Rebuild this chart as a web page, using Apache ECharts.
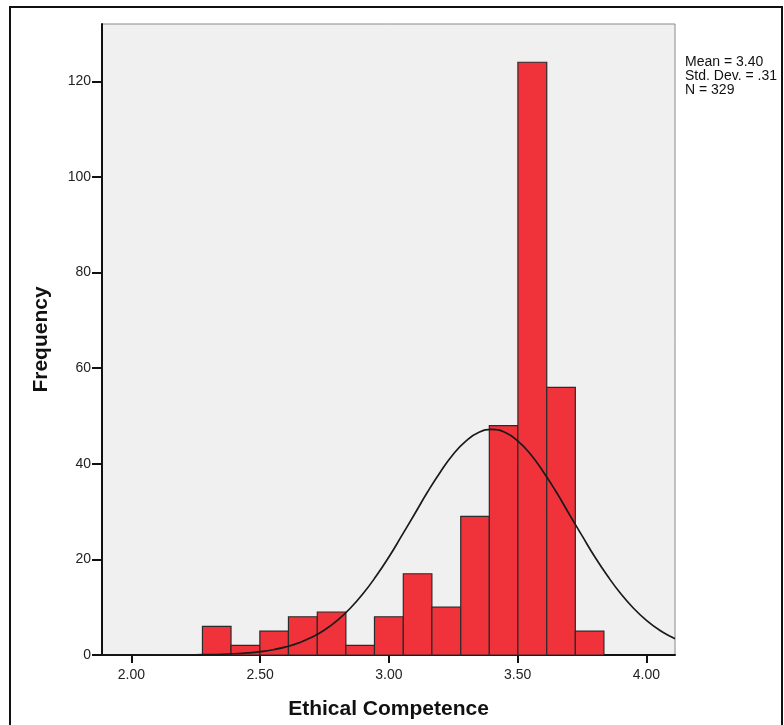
<!DOCTYPE html>
<html>
<head>
<meta charset="utf-8">
<script src="https://cdn.jsdelivr.net/npm/echarts@6/dist/echarts.min.js"></script>
<style>
html,body{margin:0;padding:0;background:#fff;}
#c{width:784px;height:725px;}
</style>
</head>
<body>
<div id="c"></div>
<script>
// Histogram bins (edges) and frequencies
var binEdges = [2.276, 2.387, 2.499, 2.610, 2.722, 2.833, 2.944, 3.056, 3.167, 3.279, 3.390, 3.501, 3.613, 3.724, 3.835];
var frequencies = [6, 2, 5, 8, 9, 2, 8, 17, 10, 29, 48, 124, 56, 5];
// Normal curve points
var curveX = [1.886, 1.95, 2.00, 2.05, 2.10, 2.15, 2.20, 2.25, 2.30, 2.35, 2.40, 2.45, 2.50, 2.55, 2.60, 2.65, 2.70, 2.75, 2.80, 2.85, 2.90, 2.95, 3.00, 3.05, 3.10, 3.15, 3.20, 3.25, 3.30, 3.35, 3.40, 3.45, 3.50, 3.55, 3.60, 3.65, 3.70, 3.75, 3.80, 3.85, 3.90, 3.95, 4.00, 4.05, 4.10, 4.111];
var curveY = [0.0, 0.0, 0.0, 0.0, 0.01, 0.01, 0.03, 0.05, 0.09, 0.15, 0.26, 0.43, 0.70, 1.10, 1.69, 2.53, 3.69, 5.24, 7.25, 9.78, 12.85, 16.46, 20.5, 24.96, 29.5, 34.1, 38.3, 42.0, 44.8, 46.6, 47.2, 46.6, 44.8, 42.0, 38.3, 34.1, 29.5, 24.96, 20.5, 16.46, 12.85, 9.78, 7.25, 5.24, 3.69, 3.43];
var xTicks = [2.0, 2.5, 3.0, 3.5, 4.0];
var yTicks = [0, 20, 40, 60, 80, 100, 120];
var statsLines = ['Mean = 3.40', 'Std. Dev. = .31', 'N = 329'];
var xTitle = 'Ethical Competence';
var yTitle = 'Frequency';

var barData = frequencies.map(function (f, i) { return [binEdges[i], binEdges[i + 1], f]; });
var lineData = curveX.map(function (x, i) { return [x, curveY[i]]; });

var chart = echarts.init(document.getElementById('c'), null, {renderer: 'canvas'});
var FONT = 'Liberation Sans, Arial, sans-serif';
chart.setOption({
  animation: false,
  backgroundColor: '#ffffff',
  grid: {
    left: 102, right: 109, top: 24, bottom: 69,
    show: true, backgroundColor: '#f0f0f0', borderColor: '#8a8a8a', borderWidth: 1
  },
  xAxis: {
    type: 'value', min: 1.886, max: 4.111,
    name: xTitle, nameLocation: 'middle', nameGap: 44,
    nameTextStyle: {fontFamily: FONT, fontWeight: 'bold', fontSize: 21, color: '#111'},
    axisLine: {show: true, onZero: false, lineStyle: {color: '#111', width: 2}},
    axisTick: {show: true, length: 8, lineStyle: {color: '#111', width: 2}, customValues: xTicks},
    axisLabel: {customValues: xTicks, margin: 13, fontFamily: FONT, fontSize: 14, color: '#222',
      formatter: function (v) { return Number(v).toFixed(2); }},
    splitLine: {show: false}
  },
  yAxis: {
    type: 'value', min: 0, max: 132,
    name: yTitle, nameLocation: 'middle', nameGap: 50, nameRotate: 90,
    nameTextStyle: {fontFamily: FONT, fontWeight: 'bold', fontSize: 21, color: '#111'},
    axisLine: {show: true, lineStyle: {color: '#111', width: 2}},
    axisTick: {show: true, length: 10, lineStyle: {color: '#111', width: 2}, customValues: yTicks},
    axisLabel: {customValues: yTicks, margin: 11, fontFamily: FONT, fontSize: 14, color: '#222'},
    splitLine: {show: false}
  },
  series: [
    {
      type: 'custom',
      data: barData,
      encode: {x: [0, 1], y: 2},
      renderItem: function (params, api) {
        var p1 = api.coord([api.value(0), api.value(2)]);
        var p2 = api.coord([api.value(1), 0]);
        return {
          type: 'rect',
          shape: {x: p1[0], y: p1[1], width: p2[0] - p1[0], height: p2[1] - p1[1]},
          style: {fill: '#f0323a', stroke: '#2b2b2b', lineWidth: 1.2}
        };
      },
      z: 2
    },
    {
      type: 'line',
      data: lineData,
      smooth: true,
      showSymbol: false,
      symbol: 'none',
      clip: true,
      lineStyle: {color: '#1a1a1a', width: 1.7},
      z: 3
    }
  ],
  graphic: [
    {type: 'rect', shape: {x: 10, y: 7, width: 772, height: 730}, style: {fill: null, stroke: '#111', lineWidth: 2}, silent: true},
    {type: 'text', left: 685, top: 55, style: {text: statsLines.join('\n'), font: '14px ' + FONT, fill: '#111', lineHeight: 14}}
  ]
});
</script>
</body>
</html>
